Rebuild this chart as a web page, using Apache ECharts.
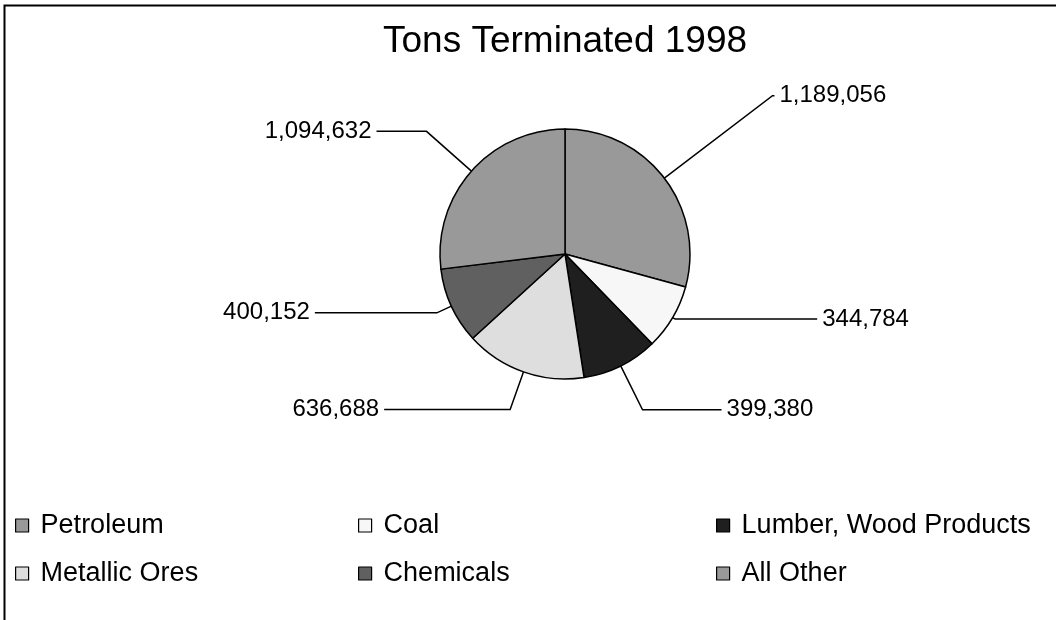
<!DOCTYPE html>
<html>
<head>
<meta charset="utf-8">
<script src="https://cdn.jsdelivr.net/npm/echarts@6/dist/echarts.min.js"></script>
<style>
  html, body { margin: 0; padding: 0; background: #ffffff; }
  #chart { width: 1056px; height: 620px; }
</style>
</head>
<body>
<div id="chart"></div>
<script>
// ---- data ----
const titleText = 'Tons Terminated 1998';
const categories = ['Petroleum', 'Coal', 'Lumber, Wood Products', 'Metallic Ores', 'Chemicals', 'All Other'];
const tons = [1189056, 344784, 399380, 636688, 400152, 1094632];

// ---- styles (kept separate from data) ----
const sliceColors = ['#999999', '#f7f7f7', '#1f1f1f', '#dedede', '#606060', '#999999'];
const lineLen1 = [136, 3, 49, 40, 16, 60];
const lineLen2 = [2, 142, 79, 126, 122, 50];
const legendColumns = [
  { names: [categories[0], categories[3]], left: 15 },
  { names: [categories[1], categories[4]], left: 358 },
  { names: [categories[2], categories[5]], left: 716 }
];

function fmt(v) {
  return String(v).replace(/\B(?=(\d{3})+(?!\d))/g, ',');
}

const FONT = '"Liberation Sans", Arial, Helvetica, sans-serif';

const chart = echarts.init(document.getElementById('chart'), null, { renderer: 'canvas' });

const option = {
  animation: false,
  backgroundColor: '#ffffff',
  color: sliceColors,
  title: {
    text: titleText,
    left: 383,
    top: 23,
    padding: 0,
    textStyle: { fontFamily: FONT, fontSize: 37, fontWeight: 'normal', color: '#000' }
  },
  graphic: [{
    type: 'rect',
    shape: { x: 4.5, y: 5.5, width: 1100, height: 700 },
    style: { fill: null, stroke: '#000', lineWidth: 2 },
    silent: true,
    z: -1
  }],
  legend: legendColumns.map(col => ({
    data: col.names,
    orient: 'vertical',
    left: col.left,
    top: 512,
    padding: 0,
    itemWidth: 13,
    itemHeight: 13,
    itemGap: 21,
    icon: 'rect',
    selectedMode: false,
    itemStyle: { borderColor: '#000', borderWidth: 1.2 },
    textStyle: { fontFamily: FONT, fontSize: 27, color: '#000', padding: [0, 0, 0, 7] }
  })),
  series: [{
    type: 'pie',
    center: [565, 254],
    radius: 125,
    startAngle: 90,
    clockwise: true,
    avoidLabelOverlap: false,
    itemStyle: { borderColor: '#000', borderWidth: 1.5 },
    label: {
      show: true,
      position: 'outside',
      distanceToLabelLine: 5,
      formatter: p => fmt(p.value),
      fontFamily: FONT,
      fontSize: 24,
      color: '#000'
    },
    labelLine: {
      show: true,
      lineStyle: { color: '#000', width: 1.5 }
    },
    emphasis: { disabled: true },
    data: categories.map((name, i) => ({
      name: name,
      value: tons[i],
      labelLine: { length: lineLen1[i], length2: lineLen2[i] }
    }))
  }]
};

chart.setOption(option);
</script>
</body>
</html>
